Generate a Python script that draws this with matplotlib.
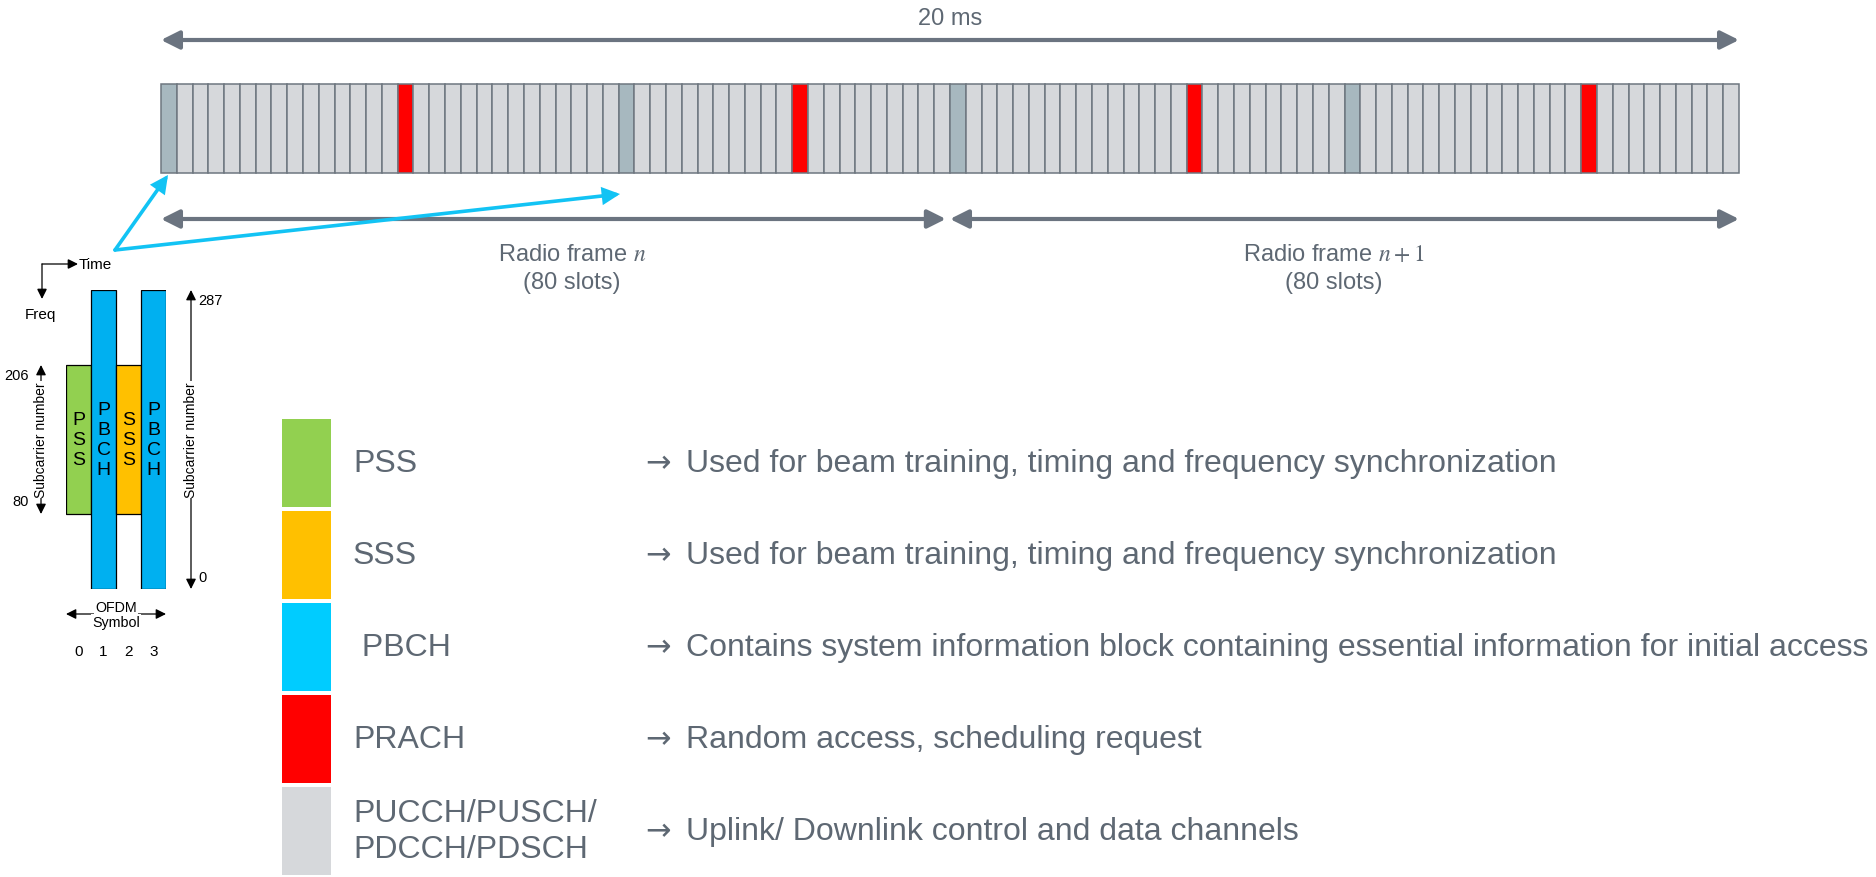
import numpy as np
import matplotlib
matplotlib.use("Agg")
import matplotlib.pyplot as plt
from matplotlib.patches import FancyArrowPatch

# ---------------- data ----------------
n_frames = 2
slots_per_frame = 50
ssb_slots = [0, 29, 50, 75]
prach_slots = [15, 40, 65, 90]
frame_labels = ["Radio frame $n$\n(80 slots)", "Radio frame $n+1$\n(80 slots)"]
duration_label = "20 ms"

ssb_symbols = [0, 1, 2, 3]
ssb_channels = ["PSS", "PBCH", "SSS", "PBCH"]
ssb_low = [80, 0, 80, 0]
ssb_high = [206, 287, 206, 287]
ssb_colors = ["#92D050", "#00B0F0", "#FFC000", "#00B0F0"]

legend_labels = ["PSS", "SSS", " PBCH", "PRACH", "PUCCH/PUSCH/\nPDCCH/PDSCH"]
legend_desc = [
    "Used for beam training, timing and frequency synchronization",
    "Used for beam training, timing and frequency synchronization",
    "Contains system information block containing essential information for initial access",
    "Random access, scheduling request",
    "Uplink/ Downlink control and data channels",
]
legend_colors = ["#92D050", "#FFC000", "#00CCFF", "#FF0000", "#D6D8DB"]

# ---------------- style ----------------
W, H = 1876, 878
GRAY_TXT = "#5E6873"
GRAY_ARR = "#6B7480"
EDGE = "#6E7780"
SLOT = "#D6D8DB"
SSB_SLOT = "#A7B8BF"
PRACH = "#FF0000"
CYAN = "#12C3F4"

plt.rcParams["font.family"] = ["Liberation Sans", "DejaVu Sans"]
plt.rcParams["mathtext.fontset"] = "stix"

fig = plt.figure(figsize=(W / 100, H / 100), dpi=100)


def box(x0, y0, x1, y1):
    return [x0 / W, 1 - y1 / H, (x1 - x0) / W, (y1 - y0) / H]


# ---------------- slot bar ----------------
n_slots = n_frames * slots_per_frame
ax_bar = fig.add_axes(box(161, 85, 1739, 174))
colors = []
for s in range(n_slots):
    if s in ssb_slots:
        colors.append(SSB_SLOT)
    elif s in prach_slots:
        colors.append(PRACH)
    else:
        colors.append(SLOT)
bars = ax_bar.bar(np.arange(n_slots), 1, width=1, align="edge", color=colors,
                  edgecolor=EDGE, linewidth=1.1)
for b in bars:
    b.set_clip_on(False)
ax_bar.set_xlim(0, n_slots)
ax_bar.set_ylim(0, 1)
ax_bar.axis("off")

ycoords = ("data", "figure pixels")


def garrow(ax, x0, x1, ypix, shrinkA=0, shrinkB=0):
    ax.annotate("", xy=(x1, H - ypix), xytext=(x0, H - ypix), xycoords=ycoords,
                textcoords=ycoords, annotation_clip=False,
                arrowprops=dict(arrowstyle="<|-|>,head_length=11,head_width=5.5",
                                mutation_scale=1, lw=3, color=GRAY_ARR,
                                shrinkA=shrinkA, shrinkB=shrinkB))


garrow(ax_bar, 0, n_slots, 41)
ax_bar.annotate(duration_label, xy=(n_slots / 2, H - 19), xycoords=ycoords,
                ha="center", va="center", fontsize=17, color=GRAY_TXT,
                annotation_clip=False)
offsets = [12, -8]
for f in range(n_frames):
    a, b = f * slots_per_frame, (f + 1) * slots_per_frame
    garrow(ax_bar, a, b, 220, shrinkA=0, shrinkB=3 if f == 0 else 0)
    ax_bar.annotate(frame_labels[f], xy=((a + b) / 2, H - 269), xycoords=ycoords,
                    xytext=(offsets[f], 0), textcoords="offset points",
                    ha="center", va="center", fontsize=17, color=GRAY_TXT,
                    linespacing=1.4, annotation_clip=False)

# ---------------- SSB inset ----------------
ax_ssb = fig.add_axes(box(66, 291, 166, 590))
src = [0, 80, 206, 287]
dst = [0, 75, 224, 299]
ax_ssb.set_yscale("function", functions=(lambda v: np.interp(v, src, dst),
                                          lambda v: np.interp(v, dst, src)))
heights = [h - l for h, l in zip(ssb_high, ssb_low)]
ax_ssb.bar(ssb_symbols, heights, bottom=ssb_low, width=1, color=ssb_colors,
           edgecolor="black", linewidth=0.9)
ax_ssb.set_xlim(-0.5, 3.5)
ax_ssb.set_ylim(0, 287)
ax_ssb.axis("off")

for sym, name in zip(ssb_symbols, ssb_channels):
    n = len(name)
    for k, ch in enumerate(name):
        ax_ssb.annotate(ch, xy=(sym, 0.5), xycoords=("data", "axes fraction"),
                        xytext=(0, -(k - (n - 1) / 2) * 14.4), textcoords="offset points",
                        ha="center", va="center", fontsize=14, color="black",
                        annotation_clip=False)


def barrow(ax, xy0, xy1, coords):
    ax.annotate("", xy=xy1, xytext=xy0, xycoords=coords, textcoords=coords,
                annotation_clip=False,
                arrowprops=dict(arrowstyle="<|-|>,head_length=6,head_width=3",
                                mutation_scale=1, lw=0.9, color="black",
                                shrinkA=0, shrinkB=0))


# left subcarrier arrow (PSS/SSS range)
xl = -0.25
barrow(ax_ssb, (xl, ssb_low[0]), (xl, ssb_high[0]), ("axes fraction", "data"))
# right subcarrier arrow (full range)
xr = 1.25
barrow(ax_ssb, (xr, min(ssb_low)), (xr, max(ssb_high)), ("axes fraction", "data"))
for xa in (xl, xr):
    ax_ssb.text(xa, 0.5, "Subcarrier number", transform=ax_ssb.transAxes,
                rotation=90, ha="center", va="center", fontsize=10,
                bbox=dict(facecolor="white", edgecolor="none", pad=0.3), clip_on=False)
for v in (ssb_high[0], ssb_low[0]):
    ax_ssb.annotate(str(v), xy=(xl, v), xycoords=("axes fraction", "data"),
                    xytext=(-9, -7 if v == ssb_high[0] else 9), textcoords="offset points",
                    ha="right", va="center", fontsize=10.5, annotation_clip=False)
for v in (max(ssb_high), min(ssb_low)):
    ax_ssb.annotate(str(v), xy=(xr, v), xycoords=("axes fraction", "data"),
                    xytext=(5, -7 if v == max(ssb_high) else 9), textcoords="offset points",
                    ha="left", va="center", fontsize=10.5, annotation_clip=False)

# OFDM symbol arrow + symbol numbers
barrow(ax_ssb, (ssb_symbols[0] - 0.5, H - 615), (ssb_symbols[-1] + 0.5, H - 615), ycoords)
ax_ssb.annotate("OFDM", xy=(1.5, H - 608), xycoords=ycoords, ha="center", va="center",
                fontsize=10.3, annotation_clip=False,
                bbox=dict(facecolor="white", edgecolor="none", pad=0.5))
ax_ssb.annotate("Symbol", xy=(1.5, H - 623), xycoords=ycoords, ha="center", va="center",
                fontsize=10.3, annotation_clip=False,
                bbox=dict(facecolor="white", edgecolor="none", pad=0.5))
for sym in ssb_symbols:
    ax_ssb.annotate(str(sym), xy=(sym, H - 652), xycoords=ycoords, ha="center",
                    va="center", fontsize=11, annotation_clip=False)

# ---------------- overlay (annotations) ----------------
ax0 = fig.add_axes([0, 0, 1, 1])
ax0.set_xlim(0, W)
ax0.set_ylim(H, 0)
ax0.axis("off")


def arrow0(p0, p1, color, lw, hl, hw, style="-|>"):
    ax0.add_patch(FancyArrowPatch(p0, p1, arrowstyle=f"{style},head_length={hl},head_width={hw}",
                                  mutation_scale=1, lw=lw, color=color,
                                  shrinkA=0, shrinkB=0, joinstyle="miter"))


# Time / Freq axes
arrow0((42, 265), (78, 265), "black", 0.9, 6, 3)
arrow0((42, 265), (42, 300), "black", 0.9, 6, 3)
ax0.text(79, 265, "Time", ha="left", va="center", fontsize=11)
ax0.text(25, 315, "Freq", ha="left", va="center", fontsize=11)

# cyan pointers
arrow0((115, 251), (168, 176), CYAN, 2.6, 9, 4.5)
arrow0((115, 251), (620, 195), CYAN, 2.6, 9, 4.5)

# ---------------- legend ----------------
ax_leg = fig.add_axes(box(0, 418, W, 878))
rows = np.arange(len(legend_labels))
ax_leg.barh(rows, 49, left=282, height=0.965, color=legend_colors)
ax_leg.set_xlim(0, W)
ax_leg.set_ylim(len(rows) - 0.5, -0.5)
ax_leg.axis("off")
for r, lab, desc in zip(rows, legend_labels, legend_desc):
    ax_leg.text(353, r, lab, ha="left", va="center", fontsize=23, color=GRAY_TXT,
                linespacing=1.3)
    ax_leg.text(645, r, "\u2192", ha="left", va="center", fontsize=22,
                color=GRAY_TXT, family="DejaVu Sans")
    ax_leg.text(686, r, desc, ha="left", va="center", fontsize=23, color=GRAY_TXT)

fig.savefig("out.png", dpi=100)
